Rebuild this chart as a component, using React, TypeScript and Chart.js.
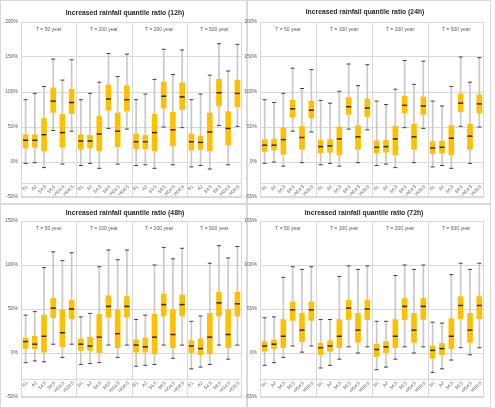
import React, { useEffect, useRef } from "react";
import { Chart, registerables } from "chart.js";

Chart.register(...registerables);

// ---------- categories ----------
const scenarios = ["B1", "A2", "S4.5", "S8.5", "HG4.5", "HG8.5"];
const periods = ["T = 50 year", "T = 100 year", "T = 200 year", "T = 500 year"];
const categories = periods.flatMap((p) => scenarios.map((s) => p + " " + s));

// ---------- 12h ----------
const max12h = [89, 98, 108, 147, 117, 146, 89, 98, 114, 155, 122, 154, 89, 97, 118, 161, 125, 160, 89, 97, 124, 169, 130, 168];
const q3_12h = [39, 39, 62, 106, 68, 104, 39, 38, 65, 110, 70, 109, 40, 38, 68, 114, 71, 113, 40, 37, 70, 118, 72, 117];
const med12h = [31, 31, 39, 87, 42, 85, 30, 30, 40, 90, 44, 89, 29, 29, 42, 94, 46, 93, 29, 28, 43, 99, 48, 98];
const q1_12h = [20, 21, 16, 71, 21, 69, 18, 20, 16, 74, 22, 73, 19, 19, 16, 77, 23, 75, 17, 18, 16, 80, 24, 79];
const min12h = [-2, -1, -8, 45, -3, 44, -5, -2, -9, 48, -3, 47, -5, -4, -9, 50, -4, 49, -7, -5, -10, 52, -4, 51];

// ---------- 24h ----------
const max24h = [89, 85, 98, 134, 105, 132, 88, 84, 101, 140, 109, 139, 87, 82, 104, 145, 111, 144, 87, 80, 108, 150, 114, 149];
const q3_24h = [32, 33, 49, 88, 51, 87, 31, 32, 50, 92, 52, 90, 30, 31, 51, 94, 54, 93, 29, 30, 52, 97, 54, 96];
const med24h = [24, 24, 32, 76, 35, 74, 22, 23, 33, 79, 36, 77, 21, 22, 33, 81, 36, 80, 20, 21, 34, 84, 37, 83];
const q1_24h = [15, 17, 11, 64, 18, 63, 13, 14, 10, 68, 18, 65, 13, 14, 10, 70, 18, 68, 12, 13, 10, 72, 18, 70];
const min24h = [-2, 0, -6, 44, -1, 43, -4, -2, -6, 47, -1, 46, -5, -3, -8, 49, -1, 48, -7, -5, -9, 51, -2, 50];

// ---------- 48h ----------
const max48h = [43, 47, 97, 115, 105, 114, 41, 45, 98, 117, 106, 117, 38, 43, 100, 120, 107, 119, 36, 42, 102, 122, 108, 121];
const q3_48h = [17, 19, 43, 62, 49, 60, 16, 18, 44, 65, 49, 64, 15, 17, 44, 67, 49, 66, 14, 16, 45, 69, 49, 69];
const med48h = [13, 10, 19, 51, 23, 50, 10, 8, 18, 53, 22, 53, 9, 7, 18, 55, 21, 55, 8, 5, 18, 57, 21, 56];
const q1_48h = [5, 5, 1, 40, 7, 39, 3, 3, 0, 41, 6, 41, 1, 1, -1, 42, 6, 42, 0, -2, -1, 42, 6, 42];
const min48h = [-11, -9, -10, 10, -5, 10, -13, -12, -11, 9, -5, 9, -15, -14, -13, 9, -6, 9, -18, -16, -13, 9, -7, 9];

// ---------- 72h ----------
const max72h = [40, 41, 86, 98, 95, 98, 38, 38, 87, 99, 95, 99, 36, 36, 88, 100, 95, 100, 35, 34, 89, 102, 95, 102];
const q3_72h = [13, 15, 38, 58, 45, 58, 11, 14, 38, 60, 45, 60, 10, 13, 38, 62, 45, 62, 8, 11, 39, 64, 45, 64];
const med72h = [8, 10, 19, 49, 26, 49, 6, 8, 19, 51, 26, 50, 4, 7, 19, 53, 26, 53, 3, 5, 19, 54, 26, 54];
const q1_72h = [2, 5, 6, 37, 13, 37, -2, 2, 6, 38, 12, 38, -4, 0, 6, 38, 12, 38, -6, -2, 5, 39, 12, 39];
const min72h = [-14, -11, -5, 8, 1, 8, -17, -14, -7, 7, 0, 7, -19, -16, -7, 7, 0, 7, -22, -18, -8, 6, -2, 6];

const titles = [
  "Increased rainfall quantile ratio (12h)",
  "Increased rainfall quantile ratio (24h)",
  "Increased rainfall quantile ratio (48h)",
  "Increased rainfall quantile ratio (72h)",
];
const yMaxes = [200, 200, 150, 150];
const yMin = -50;
const yStep = 50;
const bandLimit = -30;

type Stats = { min: number[]; q1: number[]; med: number[]; q3: number[]; max: number[] };
const stats: Stats[] = [
  { min: min12h, q1: q1_12h, med: med12h, q3: q3_12h, max: max12h },
  { min: min24h, q1: q1_24h, med: med24h, q3: q3_24h, max: max24h },
  { min: min48h, q1: q1_48h, med: med48h, q3: q3_48h, max: max48h },
  { min: min72h, q1: q1_72h, med: med72h, q3: q3_72h, max: max72h },
];

// layout (canvas placement + plot area inside canvas)
type Layout = { left: number; top: number; w: number; h: number; pl: number; pr: number; pt: number; pb: number; tx: number; ty: number };
const layouts: Layout[] = [
  { left: 0, top: 0, w: 247, h: 204, pl: 21, pr: 242, pt: 22, pb: 197, tx: 125, ty: 13 },
  { left: 244, top: 0, w: 251, h: 204, pl: 16, pr: 240, pt: 22, pb: 197, tx: 121, ty: 12 },
  { left: 0, top: 204, w: 247, h: 204, pl: 21, pr: 242, pt: 17, pb: 193, tx: 125, ty: 9 },
  { left: 244, top: 204, w: 251, h: 204, pl: 16, pr: 240, pt: 17, pb: 193, tx: 120, ty: 9 },
];
const frames = [
  { left: 0, top: 0, w: 247, h: 204 },
  { left: 247, top: 0, w: 244, h: 204 },
  { left: 0, top: 204, w: 247, h: 204 },
  { left: 247, top: 204, w: 244, h: 204 },
];

function makeDecor(title: string, lay: Layout) {
  return {
    id: "decor",
    beforeDatasetsDraw(chart: any) {
      const { ctx, chartArea: a, scales } = chart;
      const x = scales.x;
      const y = scales.y;
      ctx.save();
      ctx.strokeStyle = "#d9d9d9";
      ctx.lineWidth = 1;
      const yb = Math.round(y.getPixelForValue(bandLimit)) + 0.5;
      ctx.beginPath();
      ctx.moveTo(a.left, yb);
      ctx.lineTo(a.right, yb);
      for (let g = 1; g < periods.length; g++) {
        const i = g * scenarios.length;
        const xs = Math.round((x.getPixelForValue(i - 1) + x.getPixelForValue(i)) / 2) + 0.5;
        ctx.moveTo(xs, a.top);
        ctx.lineTo(xs, a.bottom);
      }
      ctx.stroke();
      ctx.strokeRect(Math.round(a.left) + 0.5, Math.round(a.top) + 0.5, Math.round(a.width) - 1, Math.round(a.height) - 1);
      ctx.restore();
    },
    afterDraw(chart: any) {
      const { ctx, chartArea: a, scales } = chart;
      const x = scales.x;
      const y = scales.y;
      ctx.save();
      // title
      ctx.fillStyle = "#262626";
      ctx.font = 'bold 8px "Liberation Sans", Arial, sans-serif';
      ctx.textAlign = "center";
      ctx.textBaseline = "middle";
      ctx.save();
      ctx.translate(lay.tx, lay.ty);
      ctx.scale(0.85, 1);
      ctx.fillText(title, 0, 0);
      ctx.restore();
      // group labels
      ctx.fillStyle = "#595959";
      ctx.font = '5px "Liberation Sans", Arial, sans-serif';
      periods.forEach((p, g) => {
        const i0 = g * scenarios.length;
        const xc = (x.getPixelForValue(i0) + x.getPixelForValue(i0 + scenarios.length - 1)) / 2;
        ctx.fillText(p, xc, a.top + 8);
      });
      // category labels, rotated
      ctx.font = '4.5px "Liberation Sans", Arial, sans-serif';
      ctx.textAlign = "right";
      const yl = y.getPixelForValue(bandLimit) + 3;
      categories.forEach((_, i) => {
        const s = scenarios[i % scenarios.length];
        ctx.save();
        ctx.translate(x.getPixelForValue(i) + 1.5, yl);
        ctx.rotate(-Math.PI / 4);
        ctx.fillText(s, 0, 0);
        ctx.restore();
      });
      ctx.restore();
    },
  };
}

function BoxPanel({ idx }: { idx: number }) {
  const ref = useRef<HTMLCanvasElement | null>(null);
  const lay = layouts[idx];
  useEffect(() => {
    if (!ref.current) return;
    const s = stats[idx];
    const chart = new Chart(ref.current, {
      type: "bar",
      data: {
        labels: categories,
        datasets: [
          {
            type: "line",
            data: s.med,
            showLine: false,
            pointStyle: "line",
            pointRadius: 2.5,
            pointHoverRadius: 2.5,
            pointBorderColor: "#2b2b2b",
            pointBorderWidth: 1.5,
            borderColor: "#2b2b2b",
            order: 0,
          } as any,
          {
            type: "line",
            data: s.max,
            showLine: false,
            pointStyle: "line",
            pointRadius: 2,
            pointHoverRadius: 2,
            pointBorderColor: "#404040",
            pointBorderWidth: 1,
            borderColor: "#404040",
            order: 1,
          } as any,
          {
            type: "line",
            data: s.min,
            showLine: false,
            pointStyle: "line",
            pointRadius: 2,
            pointHoverRadius: 2,
            pointBorderColor: "#404040",
            pointBorderWidth: 1,
            borderColor: "#404040",
            order: 1,
          } as any,
          {
            type: "bar",
            data: s.q1.map((v, i) => [v, s.q3[i]]),
            backgroundColor: "#ffc000",
            borderWidth: 0,
            barThickness: 5,
            grouped: false,
            order: 2,
          } as any,
          {
            type: "bar",
            data: s.min.map((v, i) => [v, s.max[i]]),
            backgroundColor: "#c8c8c8",
            borderWidth: 0,
            barThickness: 1,
            grouped: false,
            order: 3,
          } as any,
        ],
      },
      options: {
        responsive: false,
        animation: false,
        devicePixelRatio: 1,
        layout: { padding: { top: lay.pt, bottom: lay.h - lay.pb, right: lay.w - lay.pr, left: 0 } },
        plugins: { legend: { display: false }, tooltip: { enabled: false }, title: { display: false } },
        scales: {
          x: { type: "category", display: false, offset: true },
          y: {
            min: yMin,
            max: yMaxes[idx],
            ticks: {
              stepSize: yStep,
              color: "#595959",
              font: { size: 5, family: '"Liberation Sans", Arial, sans-serif' },
              padding: 3,
              callback: (v: any) => v + "%",
            },
            grid: { color: "#d9d9d9", drawTicks: false },
            border: { display: false },
            afterFit: (sc: any) => {
              sc.width = lay.pl;
            },
          },
        },
      } as any,
      plugins: [makeDecor(titles[idx], lay)],
    });
    return () => chart.destroy();
  }, [idx]);
  return (
    <canvas
      ref={ref}
      width={lay.w}
      height={lay.h}
      style={{ position: "absolute", left: lay.left, top: lay.top, width: lay.w, height: lay.h }}
    />
  );
}

export default function App() {
  useEffect(() => {
    document.body.style.margin = "0";
  }, []);
  return (
    <div style={{ position: "relative", width: 495, height: 408, background: "#fff", overflow: "hidden" }}>
      {frames.map((f, i) => (
        <div
          key={"f" + i}
          style={{
            position: "absolute",
            left: f.left,
            top: f.top,
            width: f.w,
            height: f.h,
            border: "1px solid #d9d9d9",
            boxSizing: "border-box",
          }}
        />
      ))}
      {[0, 1, 2, 3].map((i) => (
        <BoxPanel key={i} idx={i} />
      ))}
    </div>
  );
}
